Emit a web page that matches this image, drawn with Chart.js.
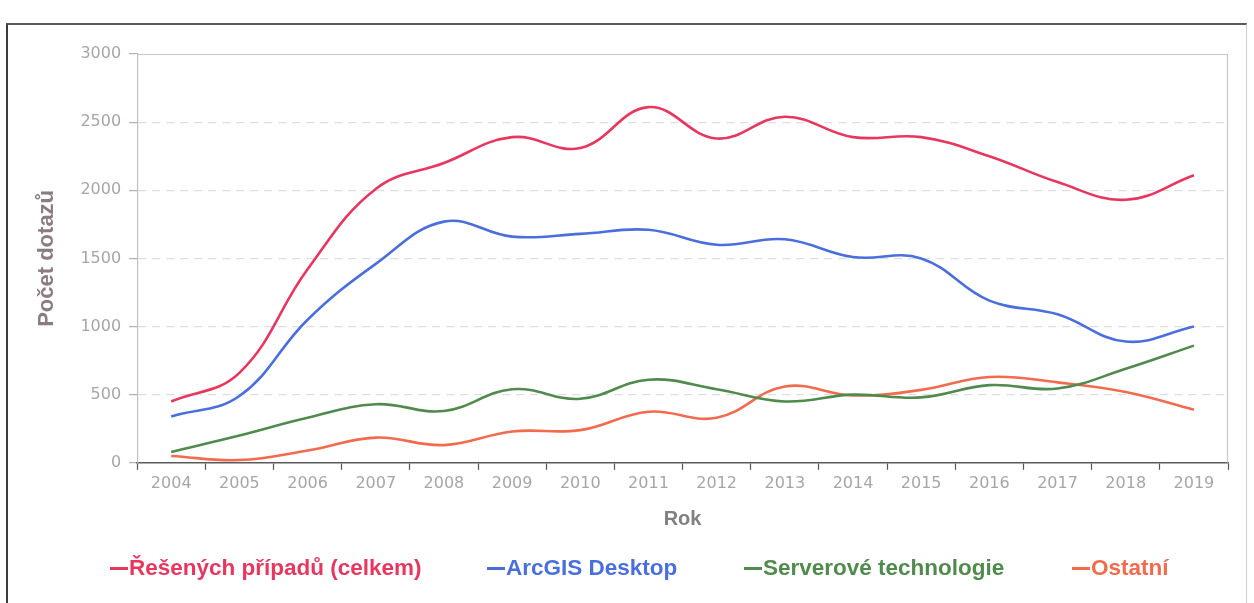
<!DOCTYPE html>
<html>
<head>
<meta charset="utf-8">
<script src="https://cdn.jsdelivr.net/npm/chart.js@4"></script>
<style>
  html, body { margin: 0; padding: 0; background: #ffffff; }
  #wrap { position: relative; width: 1254px; height: 603px; overflow: hidden; }
  #frame { position: absolute; left: 6px; top: 23px; width: 1238px; height: 620px;
           border-left: 2px solid #3c3c3c; border-top: 2px solid #5a5a5a; border-right: 1px solid #cfcfcf; }
  canvas { position: absolute; left: 0; top: 0; }
  .lg { position: absolute; top: 556px; height: 24px; line-height: 24px; white-space: nowrap;
        font-family: 'Liberation Sans', Arial, sans-serif; font-weight: bold; font-size: 22.5px; }
  .lg .ln { display: inline-block; width: 18px; height: 3px; vertical-align: middle; margin-right: 1px; position: relative; top: -1px; }
</style>
</head>
<body>
<div id="wrap">
  <div id="frame"></div>
  <canvas id="c" width="1254" height="603"></canvas>
  <div id="legend"></div>
</div>
<script>
const years = ['2004','2005','2006','2007','2008','2009','2010','2011','2012','2013','2014','2015','2016','2017','2018','2019'];
const totalCases = [450, 660, 1420, 2010, 2200, 2390, 2310, 2610, 2380, 2540, 2390, 2390, 2250, 2060, 1930, 2110];
const arcgisDesktop = [340, 490, 1050, 1460, 1770, 1660, 1680, 1710, 1600, 1640, 1510, 1500, 1190, 1090, 890, 1000];
const serverTech = [80, 200, 330, 430, 380, 540, 470, 610, 540, 450, 500, 480, 570, 545, 690, 860];
const otherCases = [50, 20, 90, 185, 130, 230, 240, 375, 330, 560, 495, 535, 630, 590, 520, 390];
const seriesNames = ['Řešených případů (celkem)', 'ArcGIS Desktop', 'Serverové technologie', 'Ostatní'];
const yTicks = [0, 500, 1000, 1500, 2000, 2500, 3000];

const colors = ['#e8375f', '#4a6fdc', '#508a4c', '#f26b4e'];
const seriesData = [totalCases, arcgisDesktop, serverTech, otherCases];
const legendLeft = [110, 487, 744, 1072];

// HTML legend built from the series names and colours
const legendEl = document.getElementById('legend');
seriesNames.forEach((name, i) => {
  const item = document.createElement('div');
  item.className = 'lg';
  item.style.left = legendLeft[i] + 'px';
  item.style.color = colors[i];
  const ln = document.createElement('span');
  ln.className = 'ln';
  ln.style.background = colors[i];
  item.appendChild(ln);
  item.appendChild(document.createTextNode(name));
  legendEl.appendChild(item);
});

const plotFrame = {
  id: 'plotFrame',
  afterDraw(chart) {
    const a = chart.chartArea, ctx = chart.ctx;
    ctx.save();
    ctx.strokeStyle = '#c8c8c8';
    ctx.lineWidth = 1.2;
    ctx.beginPath();
    ctx.moveTo(a.left, a.top + 0.5);
    ctx.lineTo(a.right - 0.5, a.top + 0.5);
    ctx.lineTo(a.right - 0.5, a.bottom);
    ctx.stroke();
    ctx.restore();
  }
};

new Chart(document.getElementById('c'), {
  type: 'line',
  data: {
    labels: years,
    datasets: seriesData.map((d, i) => ({
      label: seriesNames[i],
      data: d,
      borderColor: colors[i],
      backgroundColor: colors[i],
      borderWidth: 2.6,
      pointRadius: 0,
      tension: 0.4,
      fill: false
    }))
  },
  options: {
    responsive: false,
    animation: false,
    layout: { padding: { left: 20, right: 26, top: 54, bottom: 56 } },
    plugins: {
      legend: { display: false },
      tooltip: { enabled: false }
    },
    scales: {
      x: {
        offset: true,
        grid: { offset: true, drawOnChartArea: false, drawTicks: true, tickLength: 7, tickColor: '#555', tickWidth: 1.2 },
        border: { color: '#5a5a5a', width: 1.5 },
        ticks: { color: '#a6a6a6', padding: 4, font: { family: "'DejaVu Sans', sans-serif", size: 16 } },
        title: {
          display: true, text: 'Rok', color: '#808080',
          font: { family: "'Liberation Sans', Arial, sans-serif", size: 20, weight: 'bold' },
          padding: { top: 10, bottom: 16 }
        }
      },
      y: {
        min: 0, max: 3000,
        afterBuildTicks(scale) { scale.ticks = yTicks.map(v => ({ value: v })); },
        grid: {
          color: (ctx) => (ctx.tick && (ctx.tick.value === 3000 || ctx.tick.value === 0)) ? 'rgba(0,0,0,0)' : '#dedede',
          lineWidth: 1.2,
          drawTicks: true, tickLength: 8, tickColor: '#b0b0b0'
        },
        border: { color: '#c0c0c0', width: 1.2, dash: [8, 6] },
        ticks: {
          color: '#a6a6a6', padding: 8, font: { family: "'DejaVu Sans', sans-serif", size: 16 },
          callback: (v) => String(v)
        },
        title: {
          display: true, text: 'Počet dotazů', color: '#8a7c82',
          font: { family: "'Liberation Sans', Arial, sans-serif", size: 22, weight: 'bold' },
          padding: { top: 14, bottom: 12 }
        }
      }
    }
  },
  plugins: [plotFrame]
});
</script>
</body>
</html>
